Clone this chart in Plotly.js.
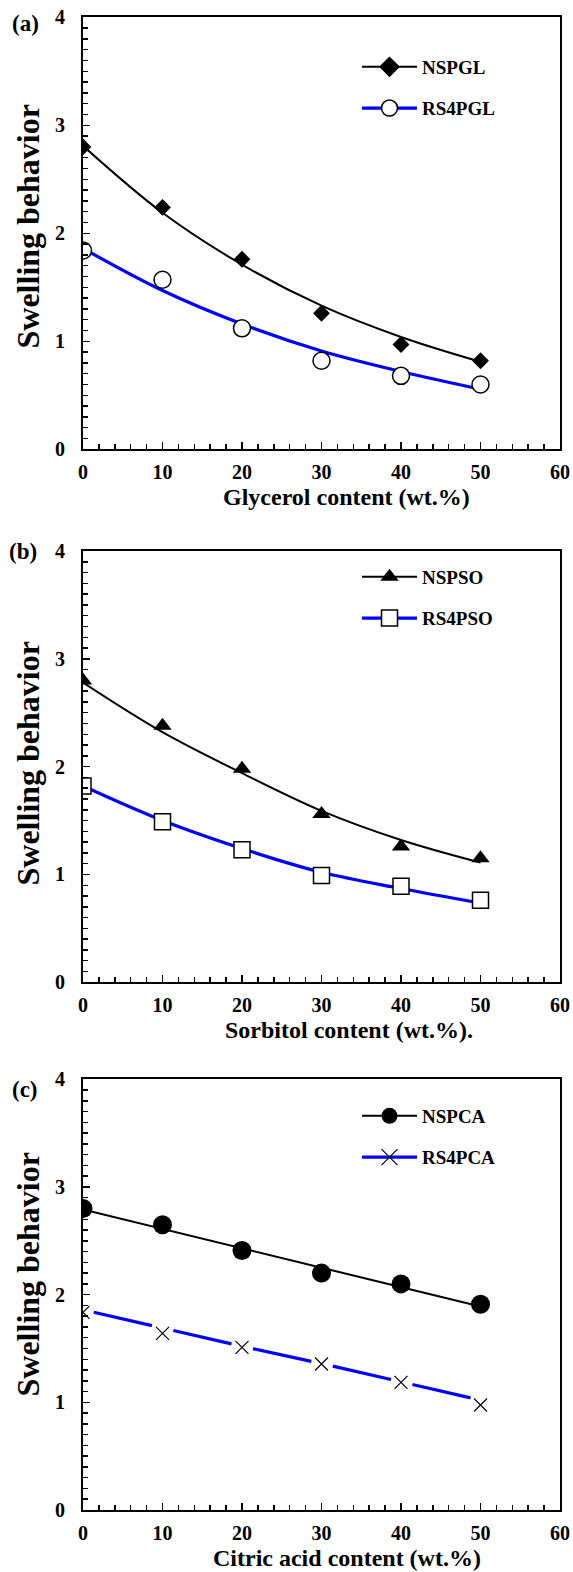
<!DOCTYPE html>
<html><head><meta charset="utf-8">
<script src="https://cdn.plot.ly/plotly-3.0.1.min.js"></script>
<style>html,body{margin:0;padding:0;background:#fff}</style>
</head><body>
<div id="chart" style="width:573px;height:1572px"></div>
<script>
// ---------- data ----------
const contentX = [0, 10, 20, 30, 40, 50];

// (a) glycerol
const nspglY    = [2.80, 2.24, 1.76, 1.26, 0.97, 0.82];
const nspglFit  = [2.81, 2.19, 1.71, 1.33, 1.04, 0.81];
const rs4pglY   = [1.84, 1.57, 1.12, 0.82, 0.68, 0.60];
const rs4pglFit = [1.86, 1.47, 1.16, 0.91, 0.72, 0.556];

// (b) sorbitol
const nspsoY    = [2.80, 2.38, 1.98, 1.56, 1.26, 1.15];
const nspsoFit  = [2.78, 2.32, 1.94, 1.59, 1.32, 1.11];
const rs4psoY   = [1.82, 1.49, 1.23, 0.99, 0.89, 0.76];
const rs4psoFit = [1.82, 1.50, 1.24, 1.02, 0.87, 0.735];

// (c) citric acid
const nspcaY    = [2.80, 2.65, 2.41, 2.20, 2.10, 1.91];
const nspcaFit  = [2.79, 2.61, 2.43, 2.25, 2.07, 1.89];
const rs4pcaY   = [1.835, 1.64, 1.51, 1.356, 1.186, 0.975];
const rs4pcaFit = [1.86, 1.69, 1.52, 1.36, 1.19, 1.02];

const xTitles = ['Glycerol content (wt.%)', 'Sorbitol content (wt.%).', 'Citric acid content (wt.%)'];
const yTitle = 'Swelling behavior';
const panelLabels = ['(a)', '(b)', '(c)'];
const xTickVals = [0, 10, 20, 30, 40, 50, 60];
const yTickVals = [0, 1, 2, 3, 4];

// ---------- styling ----------
const FONT = '"Liberation Serif", "Times New Roman", Times, serif';
const BLUE = 'rgb(0,0,255)';
const W = 573, H = 1572;
const px2x = p => p / W;
const px2y = p => 1 - p / H;

const xDom = [px2x(83), px2x(560)];
const yDoms = [
  [px2y(449.3), px2y(17.3)],
  [px2y(982.3), px2y(551)],
  [px2y(1510), px2y(1079.3)]
];

function xAxis(anchor) {
  return {
    domain: xDom, anchor: anchor, range: [0, 60],
    tickvals: xTickVals, ticks: 'inside', ticklen: 7, tickwidth: 1.5, tickcolor: '#000',
    showline: true, linewidth: 2, linecolor: '#000', mirror: true,
    showgrid: false, zeroline: false, ticklabelstandoff: 4,
    tickfont: {family: FONT, size: 20, color: '#000', weight: 700},
    minor: {dtick: 2, tick0: 0, ticks: 'inside', ticklen: 5, tickwidth: 1.5, tickcolor: '#000', showgrid: false}
  };
}
function yAxis(anchor, dom) {
  return {
    domain: dom, anchor: anchor, range: [0, 4],
    tickvals: yTickVals, ticks: 'inside', ticklen: 7, tickwidth: 1.5, tickcolor: '#000',
    showline: true, linewidth: 2, linecolor: '#000', mirror: true,
    showgrid: false, zeroline: false, ticklabelstandoff: 12,
    tickfont: {family: FONT, size: 20, color: '#000', weight: 700},
    minor: {dtick: 0.1, tick0: 0, ticks: 'inside', ticklen: 5, tickwidth: 1.5, tickcolor: '#000', showgrid: false}
  };
}

const traces = [];
function addPanel(idx, fitA, ptsA, nameA, markA, fitB, ptsB, nameB, markB, shape, dashB) {
  const xa = 'x' + (idx === 0 ? '' : idx + 1), ya = 'y' + (idx === 0 ? '' : idx + 1);
  const lg = 'legend' + (idx === 0 ? '' : idx + 1);
  traces.push({x: contentX, y: fitA, xaxis: xa, yaxis: ya, mode: 'lines', showlegend: false,
    line: {color: '#000', width: 2, shape: shape}, hoverinfo: 'skip'});
  traces.push({x: contentX, y: fitB, xaxis: xa, yaxis: ya, mode: 'lines', showlegend: false,
    line: {color: BLUE, width: 3.2, shape: shape, dash: dashB || 'solid'}, hoverinfo: 'skip'});
  traces.push({x: contentX, y: ptsA, xaxis: xa, yaxis: ya, mode: 'markers', showlegend: false, marker: markA});
  traces.push({x: contentX, y: ptsB, xaxis: xa, yaxis: ya, mode: 'markers', showlegend: false, marker: markB});
  // legend entries (line + symbol)
  traces.push({x: [null], y: [null], xaxis: xa, yaxis: ya, mode: 'lines+markers', name: nameA,
    legend: lg, legendgroup: nameA, line: {color: '#000', width: 2}, marker: Object.assign({}, markA, {size: 16})});
  traces.push({x: [null], y: [null], xaxis: xa, yaxis: ya, mode: 'lines+markers', name: nameB,
    legend: lg, legendgroup: nameB, line: {color: BLUE, width: 3.2}, marker: Object.assign({}, markB, {size: 16})});
}

addPanel(0, nspglFit, nspglY, 'NSPGL', {symbol: 'diamond', size: 13, color: '#000'},
  rs4pglFit, rs4pglY, 'RS4PGL', {symbol: 'circle', size: 17, color: '#fff', line: {color: '#000', width: 1.5}}, 'spline');
addPanel(1, nspsoFit, nspsoY, 'NSPSO', {symbol: 'triangle-up', size: 16, color: '#000'},
  rs4psoFit, rs4psoY, 'RS4PSO', {symbol: 'square', size: 16, color: '#fff', line: {color: '#000', width: 1.5}}, 'spline');
addPanel(2, nspcaFit, nspcaY, 'NSPCA', {symbol: 'circle', size: 19, color: '#000'},
  rs4pcaFit, rs4pcaY, 'RS4PCA', {symbol: 'x-thin', size: 13, color: '#000', line: {color: '#000', width: 1.2}}, 'linear',
  '0px,11px,59.7px,11px');

function legendBox(topPx) {
  return {x: px2x(357), y: px2y(topPx), xanchor: 'left', yanchor: 'top',
    bgcolor: 'rgba(0,0,0,0)', borderwidth: 0, itemwidth: 55, traceorder: 'grouped', tracegroupgap: 13.5,
    font: {family: FONT, size: 19, color: '#000', weight: 700}};
}

const annotations = [];
const xtPos = [[346.5, 497], [349, 1030], [346.5, 1558]];
const ytPos = [227, 764, 1275];
const plPos = [[25.5, 23], [23, 551], [25, 1089]];
for (let i = 0; i < 3; i++) {
  annotations.push({xref: 'paper', yref: 'paper', x: px2x(xtPos[i][0]), y: px2y(xtPos[i][1]),
    xanchor: 'center', yanchor: 'middle', showarrow: false, text: xTitles[i],
    font: {family: FONT, size: 24, color: '#000', weight: 700}});
  annotations.push({xref: 'paper', yref: 'paper', x: px2x(27.5), y: px2y(ytPos[i]),
    xanchor: 'center', yanchor: 'middle', showarrow: false, text: yTitle, textangle: -90,
    font: {family: FONT, size: 32, color: '#000', weight: 700}});
  annotations.push({xref: 'paper', yref: 'paper', x: px2x(plPos[i][0]), y: px2y(plPos[i][1]),
    xanchor: 'center', yanchor: 'middle', showarrow: false, text: panelLabels[i],
    font: {family: FONT, size: 23, color: '#000', weight: 700}});
}

const layout = {
  width: W, height: H, margin: {l: 0, r: 0, t: 0, b: 0},
  paper_bgcolor: '#fff', plot_bgcolor: '#fff',
  font: {family: FONT, color: '#000'},
  xaxis: xAxis('y'), yaxis: yAxis('x', yDoms[0]),
  xaxis2: xAxis('y2'), yaxis2: yAxis('x2', yDoms[1]),
  xaxis3: xAxis('y3'), yaxis3: yAxis('x3', yDoms[2]),
  legend: legendBox(48), legend2: legendBox(558), legend3: legendBox(1097),
  annotations: annotations
};

Plotly.newPlot('chart', traces, layout, {staticPlot: true, displayModeBar: false});
</script>
</body></html>
